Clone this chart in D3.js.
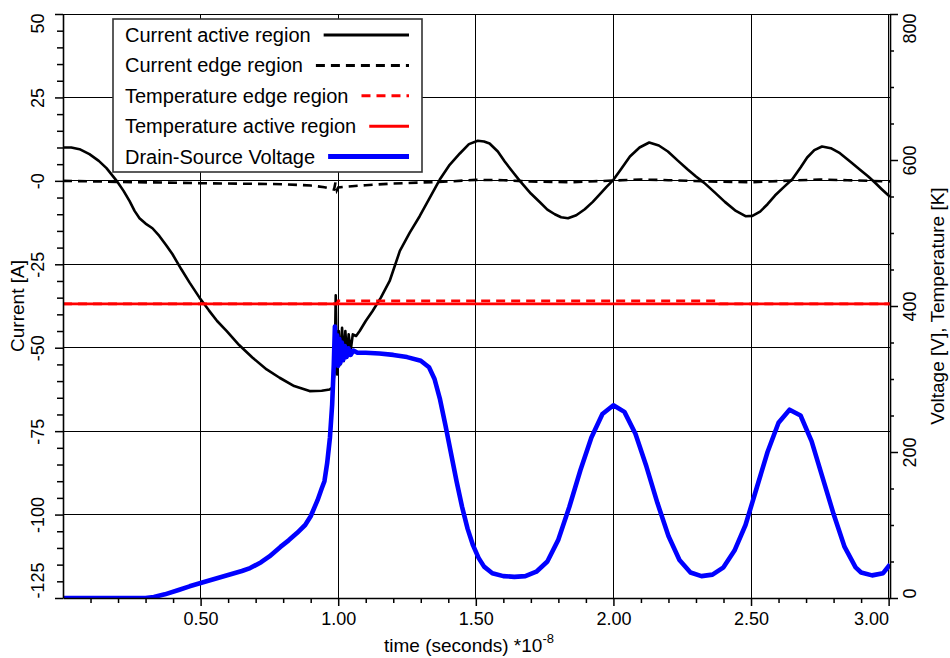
<!DOCTYPE html>
<html><head><meta charset="utf-8">
<script src="https://cdn.jsdelivr.net/npm/d3@7"></script>
<style>
html,body{margin:0;padding:0;background:#fff;}
svg{display:block;}
text{font-family:"Liberation Sans",Arial,Helvetica,sans-serif;fill:#000;}
</style>
</head><body>
<svg id="chart" width="950" height="658"></svg>
<script>
// ---------------- data ----------------
const xDomain = [0, 3.005];
const currentDomain = [-125, 50];
const rightDomain = [0, 800];

const xTicks = [0.5, 1.0, 1.5, 2.0, 2.5, 3.0];
const xTickLabels = ["0.50", "1.00", "1.50", "2.00", "2.50", "3.00"];
const leftTicks = [-125, -100, -75, -50, -25, 0, 25, 50];
const leftTickLabels = ["-125", "-100", "-75", "-50", "-25", "-0", "25", "50"];
const rightTicks = [0, 200, 400, 600, 800];
const rightTickLabels = ["0", "200", "400", "600", "800"];

const seriesNames = ["Current active region", "Current edge region", "Temperature edge region", "Temperature active region", "Drain-Source Voltage"];

// Current active region [A]
const tCurActive = [0,0.03,0.06,0.096,0.13,0.158,0.195,0.22,0.242,0.26,0.278,0.3,0.325,0.35,0.375,0.398,0.43,0.46,0.496,0.53,0.56,0.595,0.64,0.689,0.74,0.787,0.84,0.896,0.94,0.969,0.98,0.987,0.991,0.996,1.002,1.008,1.014,1.02,1.026,1.032,1.038,1.045,1.053,1.065,1.078,1.1,1.125,1.155,1.187,1.224,1.26,1.296,1.33,1.369,1.405,1.442,1.475,1.507,1.53,1.55,1.58,1.605,1.633,1.66,1.7,1.733,1.76,1.787,1.81,1.835,1.865,1.896,1.925,1.951,1.975,2.0,2.03,2.06,2.095,2.13,2.165,2.198,2.235,2.27,2.3,2.33,2.37,2.405,2.445,2.48,2.505,2.533,2.56,2.587,2.62,2.65,2.68,2.704,2.73,2.758,2.79,2.823,2.86,2.895,2.925,2.95,2.975,3.005];
const curActive = [10,10,9.5,8,6,3.8,0,-3,-6.1,-9,-11.2,-12.8,-14.2,-16.5,-19.3,-22,-26.5,-30.5,-35,-38.8,-42,-45,-49.2,-53,-56.5,-59,-61.5,-63,-62.9,-62.5,-62,-57,-34.3,-58,-45,-55,-44,-54,-45,-53,-46,-51,-46,-46.5,-45,-42,-39,-35,-30,-21,-15.5,-10.6,-5.5,0.4,4.8,8.2,11,12,11.8,11.2,8.8,5.8,2.8,0,-3.8,-6.4,-8.6,-10,-10.9,-11.2,-10.3,-8.5,-6.3,-4,-1.8,0.3,3.8,7.3,10,11.5,10.6,8.8,6,3.4,1.3,-0.6,-3.6,-6.3,-9,-10.6,-10.5,-9.2,-7,-4.4,-1.8,0.5,4,7,9.2,10.3,9.8,8.3,5.8,3.4,1.4,-0.5,-2.5,-4.8];

// Current edge region [A]
const tCurEdge = [0,0.2,0.5,0.8,0.9,0.95,0.975,0.985,0.99,0.995,1.0,1.02,1.05,1.1,1.2,1.3,1.4,1.5,1.6,1.7,1.85,2.0,2.1,2.2,2.35,2.5,2.65,2.75,2.85,3.005];
const curEdge = [0,-0.3,-0.7,-1.0,-1.4,-1.9,-2.4,-2.6,-0.5,-2.8,-2.0,-1.8,-1.6,-1.3,-0.8,-0.5,-0.2,0.3,0.2,-0.2,-0.4,0.1,0.4,0.2,-0.2,-0.4,0.1,0.4,0.2,-0.2];

// Temperatures [K]
const tTempEdge = [0,0.995,1.0,2.38,2.385,3.005];
const tempEdge = [403,403,407,407,403,403];
const tTempActive = [0,3.005];
const tempActive = [403,403];

// Drain-Source Voltage [V]
const tVolt = [0,0.30,0.33,0.37,0.42,0.46,0.5,0.55,0.6,0.65,0.68,0.72,0.75,0.79,0.82,0.85,0.88,0.9,0.925,0.94,0.95,0.96,0.97,0.978,0.984,0.988,0.992,0.996,1.0,1.004,1.008,1.013,1.018,1.024,1.03,1.037,1.045,1.055,1.07,1.1,1.15,1.2,1.25,1.3,1.33,1.35,1.37,1.39,1.41,1.43,1.45,1.47,1.49,1.51,1.53,1.56,1.6,1.64,1.68,1.72,1.76,1.8,1.84,1.88,1.92,1.96,2.0,2.04,2.08,2.12,2.16,2.2,2.24,2.28,2.32,2.36,2.4,2.44,2.48,2.52,2.56,2.6,2.64,2.68,2.72,2.76,2.8,2.84,2.88,2.9,2.94,2.98,3.005];
const volt = [0,0,1.5,5,11,16,20.5,26,31.5,37,41,49,57,70,79,89,100,112,134,150,160,185,220,265,320,372,320,360,318,355,322,350,326,345,330,342,333,339,336,336,335,333,330,325,316,300,272,236,198,160,125,95,72,55,43,34,30,29,30,36,50,80,125,175,220,252,264,255,225,180,130,85,52,35,30,32,42,65,100,150,200,240,258,250,215,165,115,70,42,35,31,34,46];

// ---------------- layout ----------------
const plot = {left: 63, right: 890, top: 14, bottom: 598};
const svg = d3.select("#chart");
const x = d3.scaleLinear().domain(xDomain).range([plot.left, plot.right]);
const yL = d3.scaleLinear().domain(currentDomain).range([plot.bottom, plot.top]);
const yR = d3.scaleLinear().domain(rightDomain).range([plot.bottom, plot.top]);

// grid
const grid = svg.append("g").attr("shape-rendering", "crispEdges");
grid.selectAll("line.h").data(leftTicks.filter(d => d !== -125)).enter().append("line")
  .attr("x1", plot.left).attr("x2", plot.right)
  .attr("y1", d => yL(d)).attr("y2", d => yL(d))
  .attr("stroke", "#000").attr("stroke-width", 1);
grid.selectAll("line.v").data(xTicks).enter().append("line")
  .attr("y1", plot.top).attr("y2", plot.bottom)
  .attr("x1", d => x(d)).attr("x2", d => x(d))
  .attr("stroke", "#000").attr("stroke-width", 1);

// clip
svg.append("clipPath").attr("id", "clip").append("rect")
  .attr("x", plot.left).attr("y", plot.top - 2)
  .attr("width", plot.right - plot.left).attr("height", plot.bottom - plot.top + 2);
const lines = svg.append("g").attr("clip-path", "url(#clip)");

function zip(ts, vs) { return ts.map((t, i) => [t, vs[i]]); }
const lineL = d3.line().x(d => x(d[0])).y(d => yL(d[1]));
const lineR = d3.line().x(d => x(d[0])).y(d => yR(d[1]));

lines.append("path").datum(zip(tCurActive, curActive)).attr("d", lineL)
  .attr("fill", "none").attr("stroke", "#000").attr("stroke-width", 2.6).attr("stroke-linejoin", "round");
lines.append("path").datum(zip(tCurEdge, curEdge)).attr("d", lineL)
  .attr("fill", "none").attr("stroke", "#000").attr("stroke-width", 2.6).attr("stroke-dasharray", "9,6");
lines.append("path").datum(zip(tTempEdge, tempEdge)).attr("d", lineR)
  .attr("fill", "none").attr("stroke", "#ff0000").attr("stroke-width", 2.8).attr("stroke-dasharray", "9,6");
lines.append("path").datum(zip(tTempActive, tempActive)).attr("d", lineR)
  .attr("fill", "none").attr("stroke", "#ff0000").attr("stroke-width", 2.8);
lines.append("path").datum(zip(tVolt, volt)).attr("d", lineR)
  .attr("fill", "none").attr("stroke", "#0000ff").attr("stroke-width", 4.6).attr("stroke-linejoin", "round");

// ---------------- axes ----------------
function styleAxis(g) {
  g.attr("font-family", null).attr("font-size", null);
  g.selectAll("path.domain").attr("stroke", "#000").attr("stroke-width", 1.6);
  g.selectAll(".tick line").attr("stroke", "#000").attr("stroke-width", 1.5);
  g.selectAll(".tick text").style("font-size", "18px");
}
function minorValues(step, lo, hi, major) {
  const out = [];
  for (let k = Math.round(lo / step); k * step <= hi + 1e-9; k++) {
    const v = +(k * step).toFixed(6);
    if (!major.some(m => Math.abs(m - v) < 1e-9)) out.push(v);
  }
  return out;
}

// left
const gL = svg.append("g").attr("transform", `translate(${plot.left},0)`)
  .call(d3.axisLeft(yL).tickValues(leftTicks).tickSize(8).tickSizeOuter(0).tickFormat((d, i) => leftTickLabels[i]));
styleAxis(gL);
gL.selectAll(".tick text").attr("x", null).attr("dy", null)
  .attr("transform", d => d === 50 ? "translate(-19,-1) rotate(-90)" : "translate(-19,0) rotate(-90)")
  .attr("text-anchor", d => d === 50 ? "end" : (d === -125 ? "start" : "middle"));
const gLm = svg.append("g").attr("transform", `translate(${plot.left},0)`)
  .call(d3.axisLeft(yL).tickValues(minorValues(5, -125, 50, leftTicks)).tickSize(6).tickFormat(""));
styleAxis(gLm); gLm.select("path.domain").remove();

// right
const gR = svg.append("g").attr("transform", `translate(${plot.right},0)`)
  .call(d3.axisRight(yR).tickValues(rightTicks).tickSize(8).tickSizeOuter(0).tickFormat((d, i) => rightTickLabels[i]));
styleAxis(gR);
gR.selectAll(".tick text").attr("x", null).attr("dy", null)
  .attr("transform", d => d === 800 ? "translate(26,-1) rotate(-90)" : "translate(26,0) rotate(-90)")
  .attr("text-anchor", d => d === 800 ? "end" : (d === 0 ? "start" : "middle"));
const gRm = svg.append("g").attr("transform", `translate(${plot.right},0)`)
  .call(d3.axisRight(yR).tickValues(minorValues(50, 0, 800, rightTicks)).tickSize(4).tickFormat(""));
styleAxis(gRm); gRm.select("path.domain").remove();

// bottom
const gB = svg.append("g").attr("transform", `translate(0,${plot.bottom})`)
  .call(d3.axisBottom(x).tickValues(xTicks).tickSize(8).tickSizeOuter(0).tickFormat((d, i) => xTickLabels[i]));
styleAxis(gB);
gB.selectAll(".tick text").attr("y", 27).attr("dy", null)
  .attr("text-anchor", d => d === 3.0 ? "end" : "middle")
  .attr("x", 0);
const gBm = svg.append("g").attr("transform", `translate(0,${plot.bottom})`)
  .call(d3.axisBottom(x).tickValues(minorValues(0.1, 0.1, 3.0, xTicks)).tickSize(5).tickFormat(""));
styleAxis(gBm); gBm.select("path.domain").remove();

// axis titles
svg.append("text").attr("transform", "translate(24,306) rotate(-90)")
  .attr("text-anchor", "middle").style("font-size", "19px").text("Current [A]");
svg.append("text").attr("transform", "translate(944,306) rotate(-90)")
  .attr("text-anchor", "middle").style("font-size", "19px").text("Voltage [V], Temperature [K]");
const xt = svg.append("text").attr("x", 384).attr("y", 652).style("font-size", "19px");
xt.append("tspan").text("time (seconds) *10");
xt.append("tspan").attr("dy", -9).style("font-size", "13px").text("-8");

// ---------------- legend ----------------
const leg = svg.append("g");
leg.append("rect").attr("x", 113).attr("y", 19).attr("width", 309).attr("height", 153)
  .attr("fill", "#fff").attr("stroke", "#333").attr("stroke-width", 1.6);
const legStyles = [
  {c: "#000", w: 3, dash: null},
  {c: "#000", w: 3, dash: "9,6"},
  {c: "#ff0000", w: 3, dash: "9,6"},
  {c: "#ff0000", w: 3, dash: null},
  {c: "#0000ff", w: 5, dash: null}
];
seriesNames.forEach((name, i) => {
  const by = 42 + i * 30.4;
  const t = leg.append("text").attr("x", 125).attr("y", by).style("font-size", "20px").text(name);
  const tl = t.node().getComputedTextLength();
  const ln = leg.append("line").attr("x1", 125 + tl + 13).attr("x2", 409)
    .attr("y1", by - 7).attr("y2", by - 7)
    .attr("stroke", legStyles[i].c).attr("stroke-width", legStyles[i].w);
  if (legStyles[i].dash) ln.attr("stroke-dasharray", legStyles[i].dash);
});
</script>
</body></html>
